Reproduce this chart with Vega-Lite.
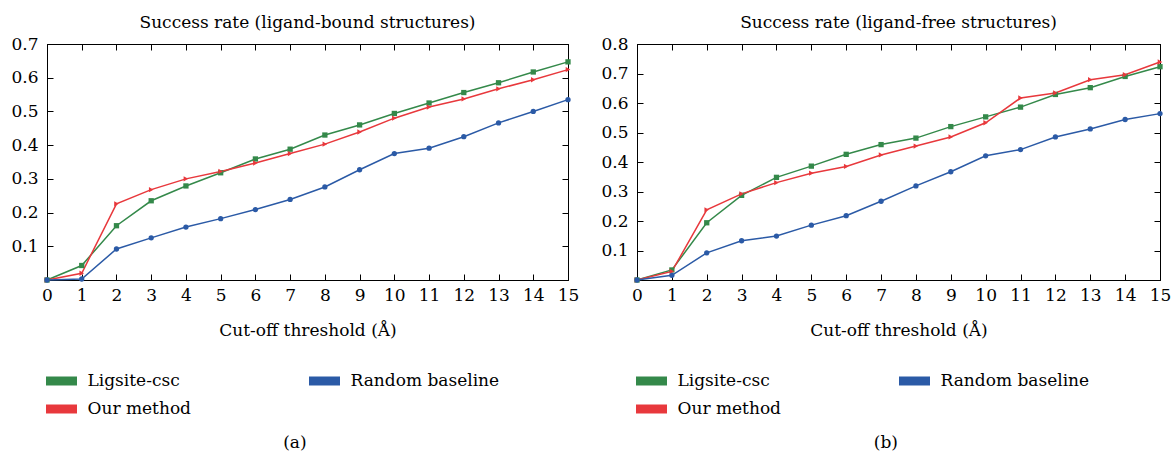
{
  "$schema": "https://vega.github.io/schema/vega-lite/v6.json",
  "background": "white",
  "padding": {"left": 10, "top": 13, "right": 0, "bottom": 0},
  "spacing": 20,
  "config": {
    "font": "DejaVu Serif",
    "view": {"stroke": "#000", "strokeWidth": 1},
    "title": {"font": "DejaVu Serif", "fontSize": 17, "fontWeight": "normal", "color": "#000", "frame": "group", "offset": 3, "anchor": "middle"},
    "axis": {"labelFont": "DejaVu Serif", "labelFontSize": 17, "labelColor": "#000", "labelFlush": false, "domainColor": "#000", "tickColor": "#000", "tickSize": -6, "grid": false, "titleFont": "DejaVu Serif", "titleFontSize": 17, "titleFontWeight": "normal", "titleColor": "#000"},
    "legend": {"labelFont": "DejaVu Serif", "labelFontSize": 17, "labelColor": "#000"}
  },
  "datasets": {
    "bound": [
      {"t": 0, "m": "Ligsite-csc", "v": 0}, {"t": 1, "m": "Ligsite-csc", "v": 0.043}, {"t": 2, "m": "Ligsite-csc", "v": 0.161}, {"t": 3, "m": "Ligsite-csc", "v": 0.235}, {"t": 4, "m": "Ligsite-csc", "v": 0.279}, {"t": 5, "m": "Ligsite-csc", "v": 0.318}, {"t": 6, "m": "Ligsite-csc", "v": 0.359}, {"t": 7, "m": "Ligsite-csc", "v": 0.388}, {"t": 8, "m": "Ligsite-csc", "v": 0.430}, {"t": 9, "m": "Ligsite-csc", "v": 0.460}, {"t": 10, "m": "Ligsite-csc", "v": 0.494}, {"t": 11, "m": "Ligsite-csc", "v": 0.525}, {"t": 12, "m": "Ligsite-csc", "v": 0.556}, {"t": 13, "m": "Ligsite-csc", "v": 0.585}, {"t": 14, "m": "Ligsite-csc", "v": 0.617}, {"t": 15, "m": "Ligsite-csc", "v": 0.647},
      {"t": 0, "m": "Our method", "v": 0}, {"t": 1, "m": "Our method", "v": 0.020}, {"t": 2, "m": "Our method", "v": 0.226}, {"t": 3, "m": "Our method", "v": 0.268}, {"t": 4, "m": "Our method", "v": 0.300}, {"t": 5, "m": "Our method", "v": 0.322}, {"t": 6, "m": "Our method", "v": 0.347}, {"t": 7, "m": "Our method", "v": 0.375}, {"t": 8, "m": "Our method", "v": 0.403}, {"t": 9, "m": "Our method", "v": 0.439}, {"t": 10, "m": "Our method", "v": 0.480}, {"t": 11, "m": "Our method", "v": 0.513}, {"t": 12, "m": "Our method", "v": 0.537}, {"t": 13, "m": "Our method", "v": 0.567}, {"t": 14, "m": "Our method", "v": 0.594}, {"t": 15, "m": "Our method", "v": 0.624},
      {"t": 0, "m": "Random baseline", "v": 0}, {"t": 1, "m": "Random baseline", "v": 0.003}, {"t": 2, "m": "Random baseline", "v": 0.092}, {"t": 3, "m": "Random baseline", "v": 0.125}, {"t": 4, "m": "Random baseline", "v": 0.157}, {"t": 5, "m": "Random baseline", "v": 0.182}, {"t": 6, "m": "Random baseline", "v": 0.209}, {"t": 7, "m": "Random baseline", "v": 0.239}, {"t": 8, "m": "Random baseline", "v": 0.276}, {"t": 9, "m": "Random baseline", "v": 0.327}, {"t": 10, "m": "Random baseline", "v": 0.375}, {"t": 11, "m": "Random baseline", "v": 0.391}, {"t": 12, "m": "Random baseline", "v": 0.425}, {"t": 13, "m": "Random baseline", "v": 0.466}, {"t": 14, "m": "Random baseline", "v": 0.500}, {"t": 15, "m": "Random baseline", "v": 0.535}
    ],
    "free": [
      {"t": 0, "m": "Ligsite-csc", "v": 0}, {"t": 1, "m": "Ligsite-csc", "v": 0.034}, {"t": 2, "m": "Ligsite-csc", "v": 0.194}, {"t": 3, "m": "Ligsite-csc", "v": 0.287}, {"t": 4, "m": "Ligsite-csc", "v": 0.348}, {"t": 5, "m": "Ligsite-csc", "v": 0.386}, {"t": 6, "m": "Ligsite-csc", "v": 0.426}, {"t": 7, "m": "Ligsite-csc", "v": 0.459}, {"t": 8, "m": "Ligsite-csc", "v": 0.481}, {"t": 9, "m": "Ligsite-csc", "v": 0.520}, {"t": 10, "m": "Ligsite-csc", "v": 0.553}, {"t": 11, "m": "Ligsite-csc", "v": 0.586}, {"t": 12, "m": "Ligsite-csc", "v": 0.629}, {"t": 13, "m": "Ligsite-csc", "v": 0.652}, {"t": 14, "m": "Ligsite-csc", "v": 0.690}, {"t": 15, "m": "Ligsite-csc", "v": 0.723},
      {"t": 0, "m": "Our method", "v": 0}, {"t": 1, "m": "Our method", "v": 0.029}, {"t": 2, "m": "Our method", "v": 0.238}, {"t": 3, "m": "Our method", "v": 0.292}, {"t": 4, "m": "Our method", "v": 0.330}, {"t": 5, "m": "Our method", "v": 0.362}, {"t": 6, "m": "Our method", "v": 0.385}, {"t": 7, "m": "Our method", "v": 0.424}, {"t": 8, "m": "Our method", "v": 0.454}, {"t": 9, "m": "Our method", "v": 0.485}, {"t": 10, "m": "Our method", "v": 0.533}, {"t": 11, "m": "Our method", "v": 0.617}, {"t": 12, "m": "Our method", "v": 0.634}, {"t": 13, "m": "Our method", "v": 0.679}, {"t": 14, "m": "Our method", "v": 0.696}, {"t": 15, "m": "Our method", "v": 0.739},
      {"t": 0, "m": "Random baseline", "v": 0}, {"t": 1, "m": "Random baseline", "v": 0.016}, {"t": 2, "m": "Random baseline", "v": 0.092}, {"t": 3, "m": "Random baseline", "v": 0.133}, {"t": 4, "m": "Random baseline", "v": 0.149}, {"t": 5, "m": "Random baseline", "v": 0.186}, {"t": 6, "m": "Random baseline", "v": 0.218}, {"t": 7, "m": "Random baseline", "v": 0.267}, {"t": 8, "m": "Random baseline", "v": 0.319}, {"t": 9, "m": "Random baseline", "v": 0.367}, {"t": 10, "m": "Random baseline", "v": 0.421}, {"t": 11, "m": "Random baseline", "v": 0.442}, {"t": 12, "m": "Random baseline", "v": 0.485}, {"t": 13, "m": "Random baseline", "v": 0.512}, {"t": 14, "m": "Random baseline", "v": 0.544}, {"t": 15, "m": "Random baseline", "v": 0.564}
    ]
  },
  "resolve": {"legend": {"color": "independent"}, "scale": {"y": "independent", "color": "independent", "shape": "independent"}},
  "hconcat": [
    {
      "title": {"text": "(a)", "orient": "bottom", "anchor": "middle", "frame": "bounds", "offset": 17},
      "resolve": {"legend": {"color": "independent"}},
      "vconcat": [
        {
          "width": 521,
          "height": 236,
          "title": {"text": "Success rate (ligand-bound structures)"},
          "data": {"name": "bound"},
          "encoding": {
            "color": {
              "field": "m", "type": "nominal",
              "scale": {"domain": ["Ligsite-csc", "Our method", "Random baseline"], "range": ["#34894a", "#e8383c", "#2b5aa6"]},
              "legend": {
                "title": null, "orient": "none", "legendX": -1, "legendY": 327, "columns": 2, "columnPadding": 118, "rowPadding": 10,
                "symbolSize": 400, "symbolOffset": 5.5, "labelOffset": 16, "labelLimit": 400,
                "symbolType": "M-1.55,-0.45H1.55V0.45H-1.55Z",
                "encode": {"symbols": {"update": {
                  "fill": [{"test": "datum.value === 'Ligsite-csc'", "value": "#2c6a3e"}, {"test": "datum.value === 'Random baseline'", "value": "#2f4b9d"}, {"value": "#d5352d"}],
                  "stroke": {"value": "transparent"}, "strokeWidth": {"value": 0}, "opacity": {"value": 1}
                }}}
              }
            }
          },
          "layer": [
            {
              "mark": {"type": "line", "strokeWidth": 1.5},
              "encoding": {
                "x": {"field": "t", "type": "quantitative", "scale": {"domain": [0, 15], "nice": false, "zero": false},
                      "axis": {"orient": "bottom", "values": [0,1,2,3,4,5,6,7,8,9,10,11,12,13,14,15], "labelPadding": 13, "title": "Cut-off threshold (Å)", "titlePadding": 19}},
                "y": {"field": "v", "type": "quantitative", "scale": {"domain": [0, 0.7], "nice": false},
                      "axis": {"orient": "left", "values": [0.1,0.2,0.3,0.4,0.5,0.6,0.7], "format": ".1f", "labelPadding": 15, "title": null}}
              }
            },
            {
              "mark": {"type": "point", "filled": true, "size": 28, "opacity": 1},
              "encoding": {
                "shape": {"field": "m", "type": "nominal", "scale": {"domain": ["Ligsite-csc", "Our method", "Random baseline"], "range": ["square", "triangle-right", "circle"]}, "legend": null},
                "x": {"field": "t", "type": "quantitative", "scale": {"domain": [0, 15], "nice": false, "zero": false},
                      "axis": {"orient": "top", "values": [0,1,2,3,4,5,6,7,8,9,10,11,12,13,14,15], "labels": false, "title": null}},
                "y": {"field": "v", "type": "quantitative", "scale": {"domain": [0, 0.7], "nice": false},
                      "axis": {"orient": "right", "values": [0.1,0.2,0.3,0.4,0.5,0.6,0.7], "labels": false, "title": null}}
              }
            }
          ]
        }
      ]
    },
    {
      "title": {"text": "(b)", "orient": "bottom", "anchor": "middle", "frame": "bounds", "offset": 17},
      "resolve": {"legend": {"color": "independent"}},
      "vconcat": [
        {
          "width": 523,
          "height": 236,
          "title": {"text": "Success rate (ligand-free structures)"},
          "data": {"name": "free"},
          "encoding": {
            "color": {
              "field": "m", "type": "nominal",
              "scale": {"domain": ["Ligsite-csc", "Our method", "Random baseline"], "range": ["#34894a", "#e8383c", "#2b5aa6"]},
              "legend": {
                "title": null, "orient": "none", "legendX": -1, "legendY": 327, "columns": 2, "columnPadding": 118, "rowPadding": 10,
                "symbolSize": 400, "symbolOffset": 5.5, "labelOffset": 16, "labelLimit": 400,
                "symbolType": "M-1.55,-0.45H1.55V0.45H-1.55Z",
                "encode": {"symbols": {"update": {
                  "fill": [{"test": "datum.value === 'Ligsite-csc'", "value": "#2c6a3e"}, {"test": "datum.value === 'Random baseline'", "value": "#2f4b9d"}, {"value": "#d5352d"}],
                  "stroke": {"value": "transparent"}, "strokeWidth": {"value": 0}, "opacity": {"value": 1}
                }}}
              }
            }
          },
          "layer": [
            {
              "mark": {"type": "line", "strokeWidth": 1.5},
              "encoding": {
                "x": {"field": "t", "type": "quantitative", "scale": {"domain": [0, 15], "nice": false, "zero": false},
                      "axis": {"orient": "bottom", "values": [0,1,2,3,4,5,6,7,8,9,10,11,12,13,14,15], "labelPadding": 13, "title": "Cut-off threshold (Å)", "titlePadding": 19}},
                "y": {"field": "v", "type": "quantitative", "scale": {"domain": [0, 0.8], "nice": false},
                      "axis": {"orient": "left", "values": [0.1,0.2,0.3,0.4,0.5,0.6,0.7,0.8], "format": ".1f", "labelPadding": 15, "title": null}}
              }
            },
            {
              "mark": {"type": "point", "filled": true, "size": 28, "opacity": 1},
              "encoding": {
                "shape": {"field": "m", "type": "nominal", "scale": {"domain": ["Ligsite-csc", "Our method", "Random baseline"], "range": ["square", "triangle-right", "circle"]}, "legend": null},
                "x": {"field": "t", "type": "quantitative", "scale": {"domain": [0, 15], "nice": false, "zero": false},
                      "axis": {"orient": "top", "values": [0,1,2,3,4,5,6,7,8,9,10,11,12,13,14,15], "labels": false, "title": null}},
                "y": {"field": "v", "type": "quantitative", "scale": {"domain": [0, 0.8], "nice": false},
                      "axis": {"orient": "right", "values": [0.1,0.2,0.3,0.4,0.5,0.6,0.7,0.8], "labels": false, "title": null}}
              }
            }
          ]
        }
      ]
    }
  ]
}
